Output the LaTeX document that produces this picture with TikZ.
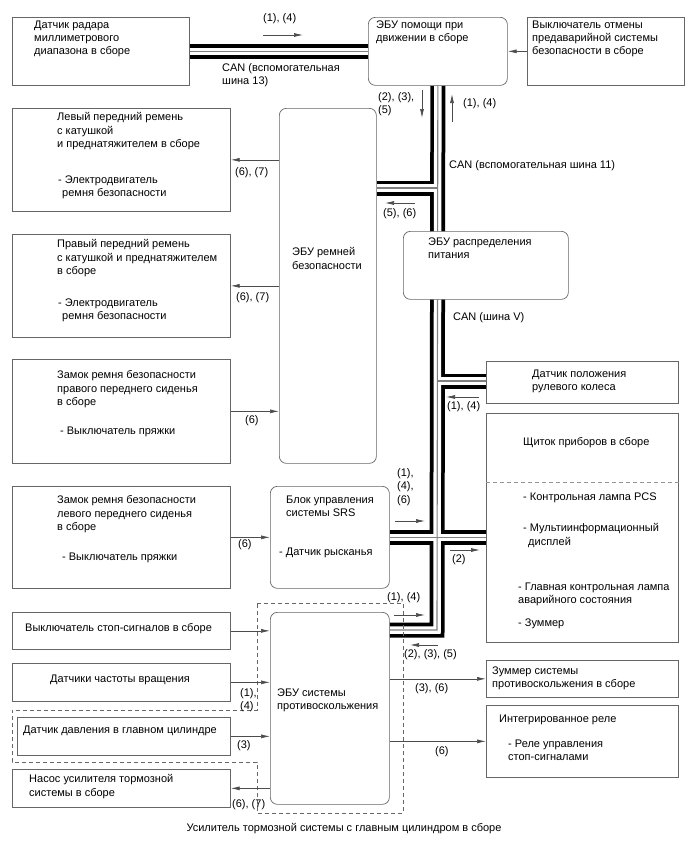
\documentclass[tikz,border=0pt]{standalone}
\usepackage{fontspec}
\setmainfont{Liberation Sans}
\usetikzlibrary{arrows.meta,backgrounds}
\definecolor{boxline}{gray}{0.4}
\definecolor{sigline}{gray}{0.3}
\tikzset{
  box/.style={draw=boxline, fill=white, line width=.7pt, anchor=north west, inner sep=0pt},
  ecu/.style={box, rounded corners=7pt},
  txt/.style={anchor=north west, inner sep=0pt, align=left, font=\fontsize{11}{13.3}\selectfont},
  sig/.style={draw=sigline, line width=.7pt, -{Latex[length=9pt,width=4pt]}},
  cable/.style={line width=15pt, black},
  cablegap/.style={line width=7.5pt, white},
  cablemid/.style={line width=1.1pt, gray},
  frame/.style={draw=boxline, line width=.7pt, dash pattern=on 4pt off 3pt},
}
% CAN lines, drawn three times (outer, gap, middle wire)
\newcommand{\canlines}[1]{%
  \draw[#1] (radar.east) -- (radar.east -| adas.west);
  \draw[#1] (adas.south) -- (j4) -- (j4 -| abs.east);
  \draw[#1] (j1) -- (j1 -| beltecu.east);
  \draw[#1] (j2) -- (j2 -| steer.west);
  \draw[#1] (srs.east) -- (srs.east -| meter.west);
}
\begin{document}
\begin{tikzpicture}[x=1pt,y=-1pt]
  \useasboundingbox (0,0) rectangle (688,852);

  % blocks
  \node[box, minimum width=177pt, minimum height=68pt] (radar) at (12,17) {};
  \node[ecu, minimum width=139pt, minimum height=68pt] (adas) at (368,17) {};
  \node[box, minimum width=157pt, minimum height=68pt] (cancel) at (527,17) {};
  \node[box, minimum width=218pt, minimum height=103pt] (beltL) at (12,108) {};
  \node[box, minimum width=218pt, minimum height=103pt] (beltR) at (12,234) {};
  \node[ecu, minimum width=97pt, minimum height=355pt] (beltecu) at (279,108) {};
  \node[ecu, minimum width=165pt, minimum height=68pt] (power) at (403,231) {};
  \node[box, minimum width=218pt, minimum height=104pt] (buckR) at (12,359) {};
  \node[box, minimum width=218pt, minimum height=102pt] (buckL) at (12,486) {};
  \node[ecu, minimum width=119pt, minimum height=102pt] (srs) at (270,486) {};
  \node[box, minimum width=192pt, minimum height=42pt] (steer) at (486,361) {};
  \node[box, minimum width=192pt, minimum height=229pt] (meter) at (486,413) {};
  \node[box, minimum width=218pt, minimum height=37pt] (stop) at (12,612) {};
  \node[box, minimum width=218pt, minimum height=38pt] (speed) at (12,663) {};
  \node[box, minimum width=213pt, minimum height=38pt] (press) at (17,717) {};
  \node[box, minimum width=218pt, minimum height=38pt] (pump) at (12,769) {};
  \node[ecu, minimum width=119pt, minimum height=192pt] (abs) at (270,612) {};
  \node[box, minimum width=192pt, minimum height=37pt] (buzz) at (486,660) {};
  \node[box, minimum width=192pt, minimum height=72pt] (relay) at (486,705) {};

  \coordinate (j1) at (437,188);
  \coordinate (j2) at (437,381);
  \coordinate (j4) at (437,630);

  \begin{pgfonlayer}{background}
    \canlines{cable}
    \canlines{cablegap}
    \canlines{cablemid}
  \end{pgfonlayer}

  % block texts
  \node[txt] (radarT) at (34,20.5) {Датчик радара\\миллиметрового\\диапазона в сборе};
  \node[txt] (adasT) at (376,20.5) {ЭБУ помощи при\\движении в сборе};
  \node[txt] (cancelT) at (532,20.5) {Выключатель отмены\\предаварийной системы\\безопасности в сборе};
  \node[txt] (beltLT) at (57,112.5) {Левый передний ремень\\с катушкой\\и преднатяжителем в сборе};
  \node[txt] (beltLM) at (58,175.5) {- Электродвигатель\\\hspace*{4pt}ремня безопасности};
  \node[txt] (beltRT) at (57,239.5) {Правый передний ремень\\с катушкой и преднатяжителем\\в сборе};
  \node[txt] (beltRM) at (58,298.5) {- Электродвигатель\\\hspace*{4pt}ремня безопасности};
  \node[txt] (beltecuT) at (292,247.5) {ЭБУ ремней\\безопасности};
  \node[txt] (powerT) at (428,237.5) {ЭБУ распределения\\питания};
  \node[txt] (buckRT) at (57,370.5) {Замок ремня безопасности\\правого переднего сиденья\\в сборе};
  \node[txt] (buckRS) at (60,426.5) {- Выключатель пряжки};
  \node[txt] (buckLT) at (57,495.5) {Замок ремня безопасности\\левого переднего сиденья\\в сборе};
  \node[txt] (buckLS) at (62,552.5) {- Выключатель пряжки};
  \node[txt] (srsT) at (286,495.5) {Блок управления\\системы SRS};
  \node[txt] (srsY) at (279,547.5) {- Датчик рысканья};
  \node[txt] (steerT) at (532,369.5) {Датчик положения\\рулевого колеса};
  \node[txt] (meterT) at (523,437.5) {Щиток приборов в сборе};
  \draw[boxline!70, line width=.7pt, dash pattern=on 4pt off 3pt] (meter.west |- 0,482) -- (meter.east |- 0,482);
  \node[txt] (meterA) at (523,492.5) {- Контрольная лампа PCS};
  \node[txt] (meterB) at (523,523.5) {- Мультиинформационный\\\hspace*{5pt}дисплей};
  \node[txt] (meterC) at (518,582.5) {- Главная контрольная лампа\\аварийного состояния};
  \node[txt] (meterD) at (518,618.5) {- Зуммер};
  \node[txt] (stopT) at (25,623.5) {Выключатель стоп-сигналов в сборе};
  \node[txt] (speedT) at (50,674.5) {Датчики частоты вращения};
  \node[txt] (pressT) at (23,725.5) {Датчик давления в главном цилиндре};
  \node[txt] (pumpT) at (29,774.5) {Насос усилителя тормозной\\системы в сборе};
  \node[txt] (absT) at (277,688.5) {ЭБУ системы\\противоскольжения};
  \node[txt] (buzzT) at (492,666.5) {Зуммер системы\\противоскольжения в сборе};
  \node[txt] (relayT) at (499,714.5) {Интегрированное реле};
  \node[txt] (relayS) at (508,739.5) {- Реле управления\\стоп-сигналами};

  % brake booster frame
  \draw[frame] (257,603) -- (403,603) -- (403,813) -- (257,813) -- (257,762)
    -- (12,762) -- (12,710) -- (257,710) -- cycle;
  \node[txt, anchor=center] (boosterT) at (344,829) {Усилитель тормозной системы с главным цилиндром в сборе};

  % signal lines
  \draw[sig] (cancel.west) -- (cancel.west -| adas.east);
  \draw[sig] (beltL.east -| beltecu.west) -- (beltL.east);
  \draw[sig] (beltR.east -| beltecu.west) -- (beltR.east);
  \draw[sig] (buckR.east) -- (buckR.east -| beltecu.west);
  \draw[sig] (buckL.east) -- (buckL.east -| srs.west);
  \draw[sig] (stop.east) -- (stop.east -| abs.west);
  \draw[sig] (speed.east) -- (speed.east -| abs.west);
  \draw[sig] (press.east) -- (press.east -| abs.west);
  \draw[sig] (pump.east -| abs.west) -- (pump.east);
  \draw[sig] (buzz.west -| abs.east) -- (buzz.west);
  \draw[sig] (relay.west -| abs.east) -- (relay.west);

  % direction marks on the CAN lines
  \draw[sig] (263,35) -- (303,35);
  \draw[sig] (422,90) -- (422,118);
  \draw[sig] (452,122) -- (452,94);
  \draw[sig] (415,203) -- (385,203);
  \draw[sig] (479,397) -- (446,397);
  \draw[sig] (395,521) -- (425,521);
  \draw[sig] (450,550) -- (480,550);
  \draw[sig] (394,615) -- (425,615);
  \draw[sig] (438,645) -- (410,645);

  % labels
  \node[txt] (l1) at (263,13.5) {(1), (4)};
  \node[txt] (can13) at (222,63.5) {CAN (вспомогательная\\шина 13)};
  \node[txt] (l2) at (378,92.5) {(2), (3),\\(5)};
  \node[txt] (l3) at (463,98.5) {(1), (4)};
  \node[txt] (can11) at (449,160.5) {CAN (вспомогательная шина 11)};
  \node[txt] (l4) at (383,208.5) {(5), (6)};
  \node[txt] (l5) at (235,167.5) {(6), (7)};
  \node[txt] (l6) at (236,292.5) {(6), (7)};
  \node[txt] (canV) at (453,312.5) {CAN (шина V)};
  \node[txt] (l7) at (245,415.5) {(6)};
  \node[txt] (l8) at (447,401.5) {(1), (4)};
  \node[txt] (l9) at (397,468.5) {(1),\\(4),\\(6)};
  \node[txt] (l10) at (238,539.5) {(6)};
  \node[txt] (l11) at (452,554.5) {(2)};
  \node[txt] (l12) at (387,592.5) {(1), (4)};
  \node[txt] (l13) at (404,649.5) {(2), (3), (5)};
  \node[txt] (l14) at (240,688.5) {(1),\\(4)};
  \node[txt] (l15) at (415,683.5) {(3), (6)};
  \node[txt] (l16) at (237,740.5) {(3)};
  \node[txt] (l17) at (435,746.5) {(6)};
  \node[txt] (l18) at (232,799.5) {(6), (7)};
\end{tikzpicture}
\end{document}
